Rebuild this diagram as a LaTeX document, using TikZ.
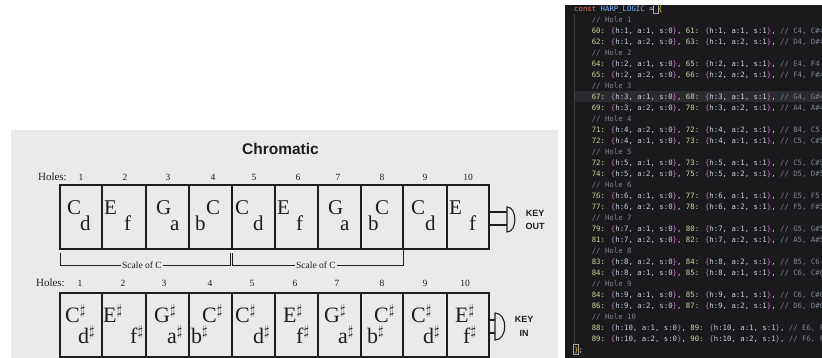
\documentclass[tikz,border=0pt]{standalone}
\usepackage{fontspec}
\setmainfont{Liberation Serif}
\newfontfamily\chsans{Liberation Sans}
\newfontfamily\codefont{DejaVu Sans Mono}
\definecolor{scanbg}{HTML}{EAEAEA}
\definecolor{ink}{HTML}{1E1E1E}
\definecolor{panel}{HTML}{1A1A1D}
\definecolor{hiline}{HTML}{2C2C30}
\definecolor{guide}{HTML}{3C3C40}
\definecolor{ctext}{HTML}{C9D1D9}
\definecolor{ckw}{HTML}{E8756A}
\definecolor{cid}{HTML}{7CB7FF}
\definecolor{cnum}{HTML}{CDD6A4}
\definecolor{cbr}{HTML}{D670D6}
\definecolor{cyel}{HTML}{FFD700}
\definecolor{ccom}{HTML}{7D8590}
\newcommand\hent[4]{\textcolor{cnum}{#1:} \textcolor{cbr}{\{}h:#2, a:#3, s:#4\textcolor{cbr}{\}}}
\newcommand\hcom[1]{\textcolor{ccom}{#1}}
\tikzset{
  ln/.style={line width=1.1pt, draw=ink},
  thinln/.style={line width=0.7pt, draw=ink},
  big/.style={anchor=base west, inner sep=0pt, text=ink, font=\fontsize{21}{21}\selectfont},
  bigb/.style={anchor=base west, inner sep=0pt, text=ink, font=\fontsize{22}{22}\selectfont},
  holenum/.style={inner sep=0pt, text=ink, font=\fontsize{9.5}{9.5}\selectfont},
  holelab/.style={inner sep=0pt, anchor=east, text=ink, font=\fontsize{11}{11}\selectfont},
  keylab/.style={inner sep=0pt, text=ink, font=\chsans\bfseries\fontsize{9}{9}\selectfont},
  scalelab/.style={inner sep=1.5pt, fill=scanbg, text=ink, font=\fontsize{9.5}{9.5}\selectfont},
  code/.style={anchor=base west, inner sep=0pt, text=ctext, font=\codefont\fontsize{7.33}{8}\selectfont},
}
\begin{document}
\begin{tikzpicture}[x=1pt,y=-1pt]
\useasboundingbox (0,0) rectangle (822,358);
\fill[white] (0,0) rectangle (822,358);
% ---------------- scan -----------------
\fill[scanbg] (11,130) rectangle (558,358);
\node[inner sep=0pt, text=ink, font=\chsans\bfseries\fontsize{15.5}{15.5}\selectfont] (title) at (280.5,149) {Chromatic};
% top row
\node[holelab] (holesA) at (67,177) {Holes:};
\foreach \n/\x in {1/81,2/125,3/168,4/213,5/254,6/298,7/338,8/382,9/425,10/468}
  \node[holenum] (ha\n) at (\x,177) {\n};
\draw[ln] (60,185) rectangle (489,249);
\foreach \x in {102,146,189,232,275,318,361,403,447}
  \draw[ln] (\x,185) -- (\x,249);
\foreach \i/\u/\ux/\l/\lx in {1/C/67/d/80, 2/E/104/f/124, 3/G/156/a/170, 4/C/206/b/195, 5/C/235/d/253,
   6/E/277/f/296, 7/G/328/a/340, 8/C/375/b/368, 9/C/411/d/425, 10/E/449/f/469}{
  \node[big] (tu\i) at (\ux,215) {\u};
  \node[big] (tl\i) at (\lx,230.5) {\l};
}
% key out
\coordinate (ko1) at (507,212);
\coordinate (ko2) at (507,225);
\draw[ln] (489,212) -- (ko1);
\draw[ln] (489,225) -- (ko2);
\draw[ln] (507,207) -- (507,232) .. controls (517.5,232) and (517.5,207) .. (507,207) -- cycle;
\node[keylab] (keyA) at (535,213) {KEY};
\node[keylab] (outA) at (535,226) {OUT};
% scale brackets
\draw[thinln] (60,253) -- (60,265) -- (230,265) -- (230,253);
\draw[thinln] (232,253) -- (232,265) -- (403,265) -- (403,250);
\node[scalelab] (scA) at (142,265) {Scale of C};
\node[scalelab] (scB) at (316,265) {Scale of C};
% bottom row
\node[holelab] (holesB) at (65,283) {Holes:};
\foreach \n/\x in {1/80,2/123,3/164,4/210,5/252,6/295,7/337,8/382,9/425,10/465}
  \node[holenum] (hb\n) at (\x,283) {\n};
\draw[ln] (60,293) rectangle (489,357);
\foreach \x in {102,146,189,232,275,318,361,403,447}
  \draw[ln] (\x,293) -- (\x,357);
\foreach \i/\u/\ux/\l/\lx in {1/C/65/d/78, 2/E/103/f/130, 3/G/154/a/167, 4/C/202/b/191, 5/C/235/d/253,
   6/E/283/f/296, 7/G/324/a/338, 8/C/374/b/367, 9/C/411/d/423, 10/E/455/f/463}{
  \node[bigb] (bu\i) at (\ux,322) {\u$^{\sharp}$};
  \node[bigb] (bl\i) at (\lx,343) {\l$^{\sharp}$};
}
% key in
\coordinate (ki1) at (495,320);
\coordinate (ki2) at (495,333);
\draw[ln] (489,320) -- (ki1);
\draw[ln] (489,333) -- (ki2);
\draw[ln] (495,313) -- (495,340) .. controls (508,340) and (508,313) .. (495,313) -- cycle;
\node[keylab] (keyB) at (524,319) {KEY};
\node[keylab] (inB) at (524,333) {IN};
% ---------------- code panel -----------------
\fill[panel] (565,5) rectangle (822,358);
\begin{scope}
\clip (565,5) rectangle (822,358);
\fill[hiline] (574,91) rectangle (822,102);
\draw[guide, line width=0.8pt] (574.5,14) -- (574.5,344);
\draw[draw=gray!70, line width=0.4pt] (653.5,3.5) rectangle (658.3,13);
\draw[draw=gray!70, line width=0.4pt] (573.5,344.5) rectangle (578.3,354);
\node[code] (c0) at (574,11.5) {\textcolor{ckw}{const} \textcolor{cid}{HARP\_LOGIC} = \textcolor{cyel}{\{}};
\foreach \i/\t in {
 1/{\hcom{// Hole 1}},
 2/{\hent{60}{1}{1}{0}, \hent{61}{1}{1}{1}, \hcom{// C4, C\#4}},
 3/{\hent{62}{1}{2}{0}, \hent{63}{1}{2}{1}, \hcom{// D4, D\#4}},
 4/{\hcom{// Hole 2}},
 5/{\hent{64}{2}{1}{0}, \hent{65}{2}{1}{1}, \hcom{// E4, F4}},
 6/{\hent{65}{2}{2}{0}, \hent{66}{2}{2}{1}, \hcom{// F4, F\#4}},
 7/{\hcom{// Hole 3}},
 8/{\hent{67}{3}{1}{0}, \hent{68}{3}{1}{1}, \hcom{// G4, G\#4}},
 9/{\hent{69}{3}{2}{0}, \hent{70}{3}{2}{1}, \hcom{// A4, A\#4}},
 10/{\hcom{// Hole 4}},
 11/{\hent{71}{4}{2}{0}, \hent{72}{4}{2}{1}, \hcom{// B4, C5}},
 12/{\hent{72}{4}{1}{0}, \hent{73}{4}{1}{1}, \hcom{// C5, C\#5}},
 13/{\hcom{// Hole 5}},
 14/{\hent{72}{5}{1}{0}, \hent{73}{5}{1}{1}, \hcom{// C5, C\#5}},
 15/{\hent{74}{5}{2}{0}, \hent{75}{5}{2}{1}, \hcom{// D5, D\#5}},
 16/{\hcom{// Hole 6}},
 17/{\hent{76}{6}{1}{0}, \hent{77}{6}{1}{1}, \hcom{// E5, F5}},
 18/{\hent{77}{6}{2}{0}, \hent{78}{6}{2}{1}, \hcom{// F5, F\#5}},
 19/{\hcom{// Hole 7}},
 20/{\hent{79}{7}{1}{0}, \hent{80}{7}{1}{1}, \hcom{// G5, G\#5}},
 21/{\hent{81}{7}{2}{0}, \hent{82}{7}{2}{1}, \hcom{// A5, A\#5}},
 22/{\hcom{// Hole 8}},
 23/{\hent{83}{8}{2}{0}, \hent{84}{8}{2}{1}, \hcom{// B5, C6}},
 24/{\hent{84}{8}{1}{0}, \hent{85}{8}{1}{1}, \hcom{// C6, C\#6}},
 25/{\hcom{// Hole 9}},
 26/{\hent{84}{9}{1}{0}, \hent{85}{9}{1}{1}, \hcom{// C6, C\#6}},
 27/{\hent{86}{9}{2}{0}, \hent{87}{9}{2}{1}, \hcom{// D6, D\#6}},
 28/{\hcom{// Hole 10}},
 29/{\hent{88}{10}{1}{0}, \hent{89}{10}{1}{1}, \hcom{// E6, F6}},
 30/{\hent{89}{10}{2}{0}, \hent{90}{10}{2}{1}, \hcom{// F6, F\#6}}}
  \node[code] (c\i) at (591.6,11.5+11*\i) {\t};
\node[code] (c31) at (574,352.5) {\textcolor{cyel}{\}};};
\end{scope}
\end{tikzpicture}
\end{document}
